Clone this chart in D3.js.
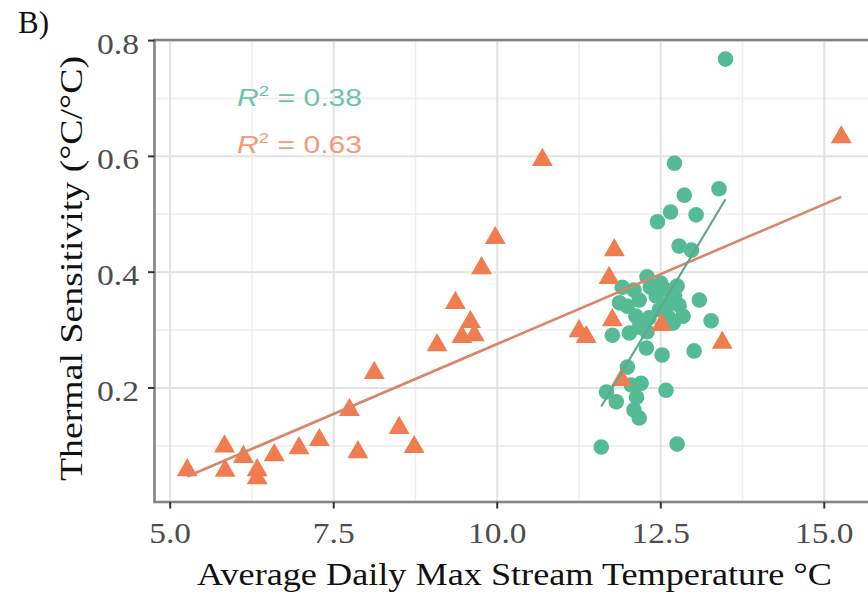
<!DOCTYPE html>
<html>
<head>
<meta charset="utf-8">
<script src="https://cdn.jsdelivr.net/npm/d3@7"></script>
<style>
  html, body { margin: 0; background: #fff; }
  svg { display: block; }
</style>
</head>
<body>
<svg id="chart" width="868" height="597"></svg>
<script>
// circles: warmer group, triangles: cooler group
const circTemp = [13.49, 12.71, 13.39, 12.86, 12.65, 12.45, 13.04, 12.78, 12.97, 12.29,
  11.91, 13.09, 13.27, 13.01, 11.76, 11.99, 12.17, 12.43, 12.58, 12.71,
  12.78, 12.48, 12.69, 12.17, 12.02, 12.28, 12.52, 11.99, 11.67, 11.82,
  12.05, 12.20, 12.13, 12.09, 12.17, 12.58, 11.59, 12.75, 12.34, 12.60,
  12.32, 12.09, 12.50, 12.75, 12.84, 12.29, 12.12, 11.87, 12.63];
const circSens = [0.768, 0.588, 0.544, 0.533, 0.504, 0.487, 0.499, 0.445, 0.438, 0.392,
  0.374, 0.352, 0.316, 0.264, 0.291, 0.341, 0.352, 0.359, 0.369, 0.360,
  0.343, 0.335, 0.312, 0.305, 0.295, 0.269, 0.257, 0.236, 0.193, 0.176,
  0.205, 0.208, 0.184, 0.162, 0.148, 0.196, 0.098, 0.103, 0.374, 0.343,
  0.321, 0.369, 0.381, 0.376, 0.324, 0.297, 0.324, 0.347, 0.321];

const triTemp = [5.26, 5.83, 5.84, 6.12, 6.33, 6.33, 6.59, 6.97, 7.28, 7.74,
  7.87, 8.12, 8.50, 8.73, 9.08, 9.36, 9.59, 9.46, 9.65, 9.76,
  9.97, 10.69, 11.25, 11.36, 11.71, 11.79, 11.76, 11.90, 12.51, 13.44, 15.26];
const triSens = [0.058, 0.099, 0.057, 0.081, 0.058, 0.044, 0.084, 0.096, 0.110, 0.162,
  0.089, 0.226, 0.131, 0.098, 0.274, 0.347, 0.314, 0.288, 0.291, 0.407,
  0.459, 0.594, 0.298, 0.288, 0.390, 0.438, 0.317, 0.214, 0.309, 0.278, 0.633];

// fitted lines (end points)
const circFitTemp = [11.59, 13.49];
const circFitSens = [0.168, 0.526];
const triFitTemp = [5.26, 15.26];
const triFitSens = [0.047, 0.530];

const r2Values = ['0.38', '0.63'];

const xTicks = [5, 7.5, 10, 12.5, 15];
const xTickLabels = ['5.0', '7.5', '10.0', '12.5', '15.0'];
const xMinor = [6.25, 8.75, 11.25, 13.75];
const yTicks = [0.2, 0.4, 0.6, 0.8];
const yTickLabels = ['0.2', '0.4', '0.6', '0.8'];
const yMinor = [0.1, 0.3, 0.5, 0.7];

const GREEN = '#55bb95';
const ORANGE = '#ef7d50';
const SERIF = '"Liberation Serif", "Times New Roman", serif';
const SANS = '"Liberation Sans", Arial, sans-serif';

const svg = d3.select('#chart');

const x = d3.scaleLinear().domain([4.76, 15.76]).range([154.5, 874]);
const y = d3.scaleLinear().domain([0.003, 0.801]).range([502, 40]);

const pLeft = 154.5, pTop = 40, pBottom = 502, pRight = 874;

// stretch text horizontally to a wider glyph width
function stretch(sel, k) {
  sel.each(function () {
    const w = this.getComputedTextLength();
    d3.select(this).attr('textLength', w * k).attr('lengthAdjust', 'spacingAndGlyphs');
  });
}

svg.append('defs').append('clipPath').attr('id', 'panel')
  .append('rect').attr('x', pLeft).attr('y', pTop)
  .attr('width', pRight - pLeft).attr('height', pBottom - pTop);

const panel = svg.append('g').attr('clip-path', 'url(#panel)');

// grid: minor first, then major
panel.selectAll('.xminor').data(xMinor).enter().append('line')
  .attr('x1', d => x(d)).attr('x2', d => x(d))
  .attr('y1', pTop).attr('y2', pBottom)
  .attr('stroke', '#efefef').attr('stroke-width', 1.6);
panel.selectAll('.yminor').data(yMinor).enter().append('line')
  .attr('x1', pLeft).attr('x2', pRight)
  .attr('y1', d => y(d)).attr('y2', d => y(d))
  .attr('stroke', '#efefef').attr('stroke-width', 1.6);
panel.selectAll('.xmajor').data(xTicks).enter().append('line')
  .attr('x1', d => x(d)).attr('x2', d => x(d))
  .attr('y1', pTop).attr('y2', pBottom)
  .attr('stroke', '#e2e2e2').attr('stroke-width', 2);
panel.selectAll('.ymajor').data(yTicks).enter().append('line')
  .attr('x1', pLeft).attr('x2', pRight)
  .attr('y1', d => y(d)).attr('y2', d => y(d))
  .attr('stroke', '#e2e2e2').attr('stroke-width', 2);

// points
const circles = d3.zip(circTemp, circSens);
const triangles = d3.zip(triTemp, triSens);

panel.selectAll('.circ').data(circles).enter().append('circle')
  .attr('cx', d => x(d[0])).attr('cy', d => y(d[1]))
  .attr('r', 7.8).attr('fill', GREEN);

const tri = d3.symbol().type(d3.symbolTriangle).size(190);
panel.selectAll('.tri').data(triangles).enter().append('path')
  .attr('d', tri)
  .attr('transform', d => `translate(${x(d[0])},${y(d[1])})`)
  .attr('fill', ORANGE);

// regression lines
const line = d3.line().x(d => x(d[0])).y(d => y(d[1]));
panel.append('path').datum(d3.zip(triFitTemp, triFitSens))
  .attr('d', line).attr('fill', 'none')
  .attr('stroke', '#d9856a').attr('stroke-width', 2.6);
panel.append('path').datum(d3.zip(circFitTemp, circFitSens))
  .attr('d', line).attr('fill', 'none')
  .attr('stroke', '#5fa890').attr('stroke-width', 2.2);

// R² annotations
const r2Colors = ['#6cc4a6', '#f59a76'];
const r2Base = [106, 153];
r2Values.forEach((v, i) => {
  const g = svg.append('g');
  const t = g.append('text')
    .attr('font-family', SANS).attr('font-size', 24)
    .attr('fill', r2Colors[i]);
  t.append('tspan').attr('font-style', 'italic').text('R');
  t.append('tspan').attr('dy', -10).attr('font-size', 15).text('2');
  t.append('tspan').attr('dy', 10).text(' = ' + v);
  const w = t.node().getBBox().width;
  g.attr('transform', `translate(237,${r2Base[i]}) scale(${125 / w},1)`);
});

// panel border
svg.append('rect')
  .attr('x', pLeft).attr('y', pTop)
  .attr('width', pRight - pLeft).attr('height', pBottom - pTop)
  .attr('fill', 'none').attr('stroke', '#858585').attr('stroke-width', 2.6);

// axis ticks
svg.selectAll('.ytick').data(yTicks).enter().append('line')
  .attr('x1', pLeft - 6.5).attr('x2', pLeft)
  .attr('y1', d => y(d)).attr('y2', d => y(d))
  .attr('stroke', '#333').attr('stroke-width', 2);
svg.selectAll('.xtick').data(xTicks).enter().append('line')
  .attr('x1', d => x(d)).attr('x2', d => x(d))
  .attr('y1', pBottom).attr('y2', pBottom + 6.5)
  .attr('stroke', '#333').attr('stroke-width', 2);

const yLab = svg.selectAll('.ylab').data(yTicks).enter().append('text')
  .attr('x', 139).attr('y', d => y(d) + 13)
  .attr('text-anchor', 'end')
  .attr('font-family', SERIF).attr('font-size', 29)
  .attr('fill', '#4d4d4d')
  .text((d, i) => yTickLabels[i]);
stretch(yLab, 1.16);

const xLab = svg.selectAll('.xlab').data(xTicks).enter().append('text')
  .attr('x', d => x(d)).attr('y', 543)
  .attr('text-anchor', 'middle')
  .attr('font-family', SERIF).attr('font-size', 29)
  .attr('fill', '#4d4d4d')
  .text((d, i) => xTickLabels[i]);
stretch(xLab, 1.15);

// titles
svg.append('text')
  .attr('x', 514.5).attr('y', 585)
  .attr('text-anchor', 'middle')
  .attr('font-family', SERIF).attr('font-size', 32)
  .attr('fill', '#111')
  .attr('textLength', 635).attr('lengthAdjust', 'spacingAndGlyphs')
  .text('Average Daily Max Stream Temperature °C');

svg.append('text')
  .attr('transform', 'translate(82,268.5) rotate(-90)')
  .attr('text-anchor', 'middle')
  .attr('font-family', SERIF).attr('font-size', 32)
  .attr('fill', '#111')
  .attr('textLength', 425).attr('lengthAdjust', 'spacingAndGlyphs')
  .text('Thermal Sensitivity (°C/°C)');

svg.append('text')
  .attr('x', 18).attr('y', 33)
  .attr('font-family', SERIF).attr('font-size', 31)
  .attr('fill', '#111')
  .text('B)');
</script>
</body>
</html>
